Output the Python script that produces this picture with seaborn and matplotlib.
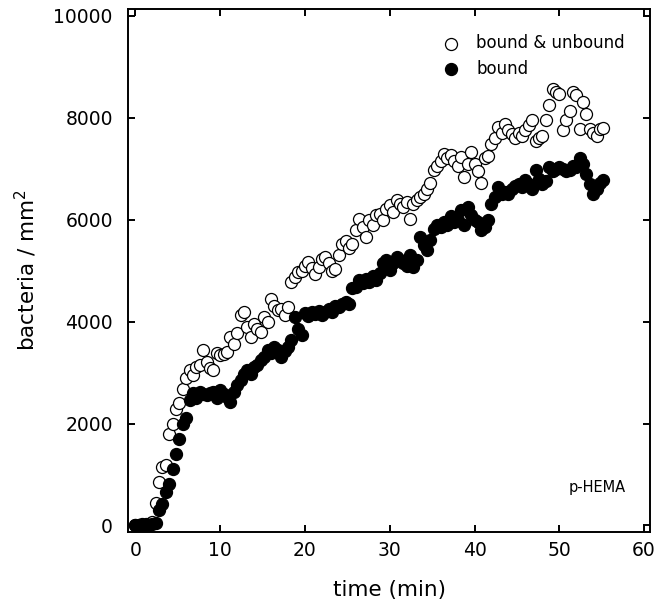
import pandas as pd
import matplotlib
matplotlib.use("Agg")
import matplotlib.pyplot as plt
import seaborn as sns

# tempo de aquisição (min)
tempo = [0.0, 0.4, 0.8, 1.2, 1.6, 2.0, 2.4, 2.8, 3.2, 3.6,
         4.0, 4.4, 4.8, 5.2, 5.6, 6.0, 6.4, 6.8, 7.2, 7.6,
         8.0, 8.4, 8.8, 9.2, 9.6, 10.0, 10.4, 10.8, 11.2, 11.6,
         12.0, 12.4, 12.8, 13.2, 13.6, 14.0, 14.4, 14.8, 15.2, 15.6,
         16.0, 16.4, 16.8, 17.2, 17.6, 18.0, 18.4, 18.8, 19.2, 19.6,
         20.0, 20.4, 20.8, 21.2, 21.6, 22.0, 22.4, 22.8, 23.2, 23.6,
         24.0, 24.4, 24.8, 25.2, 25.6, 26.0, 26.4, 26.8, 27.2, 27.6,
         28.0, 28.4, 28.8, 29.2, 29.6, 30.0, 30.4, 30.8, 31.2, 31.6,
         32.0, 32.4, 32.8, 33.2, 33.6, 34.0, 34.4, 34.8, 35.2, 35.6,
         36.0, 36.4, 36.8, 37.2, 37.6, 38.0, 38.4, 38.8, 39.2, 39.6,
         40.0, 40.4, 40.8, 41.2, 41.6, 42.0, 42.4, 42.8, 43.2, 43.6,
         44.0, 44.4, 44.8, 45.2, 45.6, 46.0, 46.4, 46.8, 47.2, 47.6,
         48.0, 48.4, 48.8, 49.2, 49.6, 50.0, 50.4, 50.8, 51.2, 51.6,
         52.0, 52.4, 52.8, 53.2, 53.6, 54.0, 54.4, 54.8, 55.2]

# bound & unbound (círculos abertos)
total = [0, 0, 20, 0, 30, 60, 450, 850, 1150, 1180,
         1800, 2000, 2280, 2400, 2680, 2900, 3050, 2950, 3100, 3140,
         3440, 3200, 3080, 3050, 3380, 3350, 3360, 3400, 3700, 3570,
         3770, 4120, 4190, 3890, 3700, 3960, 3850, 3800, 4090, 4000,
         4440, 4300, 4220, 4250, 4120, 4290, 4780, 4870, 4970, 5000,
         5100, 5170, 5050, 4940, 5070, 5220, 5270, 5140, 5000, 5040,
         5300, 5530, 5590, 5450, 5530, 5800, 6020, 5850, 5660, 5990,
         5900, 6100, 6120, 6000, 6200, 6280, 6150, 6380, 6300, 6250,
         6350, 6020, 6300, 6380, 6450, 6510, 6600, 6710, 6970, 7050,
         7150, 7290, 7200, 7260, 7150, 7060, 7230, 6840, 7100, 7330,
         7100, 6950, 6710, 7200, 7250, 7490, 7600, 7820, 7700, 7880,
         7750, 7690, 7600, 7700, 7650, 7750, 7850, 7950, 7550, 7600,
         7650, 7950, 8240, 8570, 8500, 8470, 7750, 7950, 8140, 8500,
         8440, 7780, 8310, 8080, 7780, 7700, 7650, 7780, 7800]

# bound (círculos cheios)
aderidas = [0, 10, 0, 20, 0, 30, 50, 300, 430, 660,
            820, 1100, 1410, 1700, 2000, 2100, 2460, 2590, 2500, 2620,
            2580, 2550, 2600, 2620, 2500, 2650, 2580, 2520, 2420, 2620,
            2750, 2850, 2980, 3050, 2980, 3110, 3150, 3240, 3300, 3440,
            3380, 3500, 3450, 3310, 3420, 3500, 3630, 4090, 3860, 3730,
            4160, 4100, 4190, 4150, 4200, 4120, 4180, 4250, 4190, 4300,
            4290, 4350, 4380, 4350, 4650, 4680, 4810, 4750, 4840, 4780,
            4900, 4810, 4950, 5140, 5200, 5010, 5150, 5270, 5200, 5150,
            5100, 5300, 5070, 5200, 5660, 5500, 5400, 5600, 5820, 5900,
            5850, 5950, 5900, 6080, 5950, 6000, 6180, 5890, 6250, 6100,
            5990, 5950, 5800, 5860, 6000, 6310, 6450, 6640, 6500, 6550,
            6510, 6600, 6670, 6700, 6650, 6770, 6700, 6610, 6970, 6800,
            6700, 6750, 7030, 6950, 7000, 7030, 7000, 6950, 6970, 7050,
            7030, 7200, 7100, 6900, 6700, 6510, 6600, 6710, 6770]

df = pd.DataFrame({"tempo": tempo, "total": total, "aderidas": aderidas})

sns.set_style("ticks")
plt.rcParams['font.family'] = ['DejaVu Sans']
plt.rcParams['text.color'] = 'black'
plt.rcParams['axes.labelcolor'] = 'black'
plt.rcParams['xtick.color'] = 'black'
plt.rcParams['ytick.color'] = 'black'

fig = plt.figure(figsize=(6.64, 6.11), dpi=100)
ax = fig.add_axes([0.193, 0.130, 0.786, 0.855])

sns.scatterplot(data=df, x="tempo", y="total", ax=ax, s=75,
                facecolor="white", edgecolor="black", linewidth=0.9,
                label="bound & unbound")
sns.scatterplot(data=df, x="tempo", y="aderidas", ax=ax, s=75,
                color="black", edgecolor="black", linewidth=0.9,
                label="bound")

ax.set_xlim(-0.85, 60.7)
ax.set_ylim(-120, 10130)
ax.set_xticks(range(0, 61, 10))
ax.set_yticks(range(0, 10001, 2000))
ax.tick_params(direction="in", length=5, width=1.4, labelsize=13.5,
               top=True, right=True)
ax.tick_params(axis="y", pad=11)
ax.tick_params(axis="x", pad=7)
for sp in ax.spines.values():
    sp.set_linewidth(1.4)
    sp.set_color("black")

ax.set_xlabel("time (min)", fontsize=15.5)
ax.set_ylabel("bacteria / mm$^2$", fontsize=15.5)
ax.xaxis.set_label_coords(0.5, -0.092)
ax.yaxis.set_label_coords(-0.17, 0.5)

leg = ax.legend(loc="upper right", frameon=False, fontsize=12,
                handletextpad=0.5, borderaxespad=1.1, labelspacing=0.45,
                bbox_to_anchor=(1.0, 1.0))

ax.text(54.5, 750, "p-HEMA", fontsize=10.5, ha="center", va="center")

plt.savefig("out.png", dpi=100)
